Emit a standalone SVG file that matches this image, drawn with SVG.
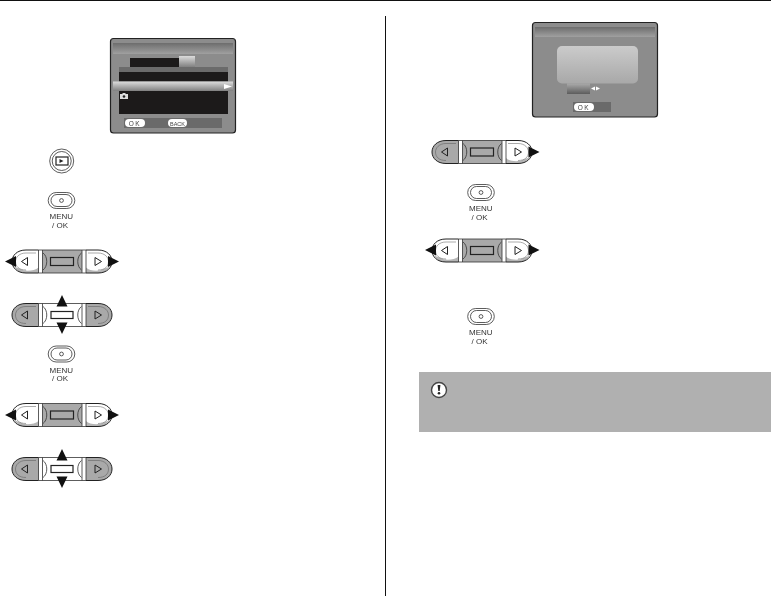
<svg xmlns="http://www.w3.org/2000/svg" xmlns:xlink="http://www.w3.org/1999/xlink" width="771" height="596" viewBox="0 0 771 596">
<style>
.o{fill:none;stroke:#333;stroke-width:.8}
.t{font-family:"Liberation Sans",Arial,sans-serif;font-size:8px;fill:#333}
.k{font-family:"Liberation Sans",Arial,sans-serif;font-size:6.500px;fill:#444;text-anchor:middle}
</style>
<defs>
<filter id="gray" x="-10%" y="-10%" width="120%" height="120%"><feOffset dx="0" dy="0"/></filter>
<linearGradient id="bar" x1="0" y1="0" x2="0" y2="1"><stop offset="0" stop-color="#6d6d6d"/><stop offset="1" stop-color="#a0a0a0"/></linearGradient>
<linearGradient id="sel" x1="0" y1="0" x2="0" y2="1"><stop offset="0" stop-color="#dcdcdc"/><stop offset="1" stop-color="#808080"/></linearGradient>
<linearGradient id="tab" x1="0" y1="0" x2="0" y2="1"><stop offset="0" stop-color="#aaa"/><stop offset="1" stop-color="#5c5c5c"/></linearGradient>
<linearGradient id="box" x1="0" y1="0" x2="0" y2="1"><stop offset="0" stop-color="#cbcbcb"/><stop offset="1" stop-color="#a8a8a8"/></linearGradient>
<path id="silL" d="M-23.500,-11.500 H-36 C-45,-11.500 -50,-6 -50,0 C-50,6 -45,11.500 -36,11.500 H-23.500 Z"/>
<path id="silR" d="M24,-11.500 H36 C45,-11.500 50,-6 50,0 C50,6 45,11.500 36,11.500 H24 Z"/>
<path id="shadeL" d="M-48,5 C-44,11 -40,11.500 -36,11.500 H-23.500 V6 C-27,9 -32,9.500 -38,9 Z"/>
<path id="shadeR" d="M48,5 C44,11 40,11.500 36,11.500 H24 V6 C27,9 32,9.500 38,9 Z"/>
<g id="lines">
<path d="M-23.500,-11.500 H24 M-23.500,11.500 H24 M-23.500,-11.500 V11.500 M-19.500,-11.500 V11.500 M20,-11.500 V11.500 M24,-11.500 V11.500" class="o"/>
<path d="M-19,-8.500 C-14,-5 -14,5 -19,8.500 M19.500,-8.500 C14.500,-5 14.500,5 19.500,8.500" class="o" stroke-width=".6"/>
<path d="M-26,-8.500 H-36 C-43,-8.500 -46.500,-4 -46.500,0 C-46.500,5 -43,8.500 -36,8.500 M26,-8.500 H36 C43,-8.500 46.500,-4 46.500,0 C46.500,5 43,8.500 36,8.500" fill="none" stroke="#555" stroke-width=".5"/>
<path d="M-34.500,-4 V4 L-40.500,0 Z M33,-4 V4 L39.500,0 Z" fill="none" stroke="#222" stroke-width="1"/>
<path d="M-36,-11.500 C-45,-11.500 -50,-6 -50,0 C-50,6 -45,11.500 -36,11.500 H-23.500 M-23.500,-11.500 H-36 M36,-11.500 C45,-11.500 50,-6 50,0 C50,6 45,11.500 36,11.500 H24 M24,-11.500 H36" fill="none" stroke="#222" stroke-width="1"/>
</g>
<g id="padH">
<rect x="-19.500" y="-11.500" width="39.500" height="23" fill="#a9a9a9"/>
<use xlink:href="#shadeL" fill="#b5b5b5"/><use xlink:href="#shadeR" fill="#b5b5b5"/>
<use xlink:href="#lines"/>
<rect x="-11.500" y="-4" width="23" height="8" fill="#a9a9a9" stroke="#222" stroke-width="1.200"/>
</g>
<g id="padRight">
<rect x="-19.500" y="-11.500" width="39.500" height="23" fill="#a9a9a9"/>
<use xlink:href="#silL" fill="#a9a9a9"/><use xlink:href="#shadeR" fill="#b5b5b5"/>
<use xlink:href="#lines"/>
<rect x="-11.500" y="-4" width="23" height="8" fill="#a9a9a9" stroke="#222" stroke-width="1.200"/>
</g>
<g id="padV">
<use xlink:href="#silL" fill="#a9a9a9"/><use xlink:href="#silR" fill="#a9a9a9"/>
<use xlink:href="#lines"/>
<rect x="-11" y="-3.500" width="22" height="7" fill="#fff" stroke="#222" stroke-width="1.200"/>
</g>
<path id="al" d="M0,0 L11,-5.500 V5.500 Z" fill="#111"/>
<path id="ar" d="M0,0 L-11,-5.500 V5.500 Z" fill="#111"/>
<path id="upDown" d="M0,-20 L5.500,-8.500 H-5.500 Z M0,19 L5.500,7.500 H-5.500 Z" fill="#111"/>
<g id="menu">
<rect x="-13.300" y="-8" width="26.600" height="16" rx="8" class="o" fill="#fff"/>
<rect x="-10.500" y="-6" width="21" height="12" rx="6" class="o"/>
<circle cx="0" cy="0" r="1.900" class="o"/>
<g filter="url(#gray)">
<text class="t" x="-12" y="18.500">MENU</text>
<text class="t" x="-9.500" y="27">/ OK</text>
</g>
</g>
</defs>
<g id="frame">
<path d="M0,0.500 H771" stroke="#111" stroke-width="1"/>
<path d="M385.500,16 V596" stroke="#111" stroke-width="1"/>
</g>
<g id="screen-left">
<rect x="110.500" y="38.500" width="125" height="94.500" rx="3" fill="#8c8c8c" stroke="#222" stroke-width="1.200"/>
<rect x="113" y="43" width="120" height="11" fill="url(#bar)"/>
<rect x="130" y="58" width="49" height="9" fill="#1c1a1a"/>
<rect x="179" y="56" width="16" height="11" fill="url(#sel)"/>
<rect x="119" y="67" width="109" height="5" fill="#6b6b6b"/>
<rect x="119" y="72" width="109" height="9.500" fill="#1c1a1a"/>
<rect x="113" y="81.500" width="120" height="9.500" fill="url(#sel)"/>
<rect x="119" y="91" width="109" height="23" fill="#1c1a1a"/>
<path d="M224,84 L232,86.500 L224,89 Z" fill="#fff"/>
<path d="M120,94 H122 L123,93 H125 L126,94 H128 V99 H120 Z" fill="#ddd"/><circle cx="124" cy="96.500" r="1.300" fill="#222"/>
<rect x="124" y="118" width="98" height="10" fill="#6a6a6a"/>
<rect x="125" y="119" width="20" height="8" rx="4" fill="#fff"/>
<rect x="168" y="119" width="19" height="8" rx="4" fill="#fff"/>
<g filter="url(#gray)">
<text class="k" x="135" y="125.500" letter-spacing="1.500">OK</text>
<text class="k" x="177.500" y="125.500" style="font-size:5.500px">BACK</text>
</g>
</g>
<g id="screen-right">
<rect x="532.500" y="22.500" width="125" height="94.500" rx="3" fill="#8c8c8c" stroke="#222" stroke-width="1.200"/>
<rect x="535" y="27" width="120" height="10" fill="url(#bar)"/>
<rect x="557" y="46" width="81" height="37.500" rx="5" fill="url(#box)"/>
<rect x="567" y="83.500" width="23" height="10.500" fill="url(#tab)"/>
<path d="M595,86.500 L591,88.500 L595,90.500 Z M596,86.500 L600,88.500 L596,90.500 Z" fill="#fff"/>
<rect x="573" y="102" width="38" height="10" fill="#6a6a6a"/>
<rect x="574" y="103" width="20" height="8" rx="4" fill="#fff"/>
<g filter="url(#gray)"><text class="k" x="584" y="109.500" letter-spacing="1.500">OK</text></g>
</g>
<g id="btn-play">
<circle cx="61.700" cy="161" r="12" class="o"/>
<circle cx="61.700" cy="161" r="9.500" class="o"/>
<rect x="56" y="157" width="12" height="8" fill="#fff" stroke="#222" stroke-width="1.200"/>
<path d="M59.500,159 L63.500,161 L59.500,163 Z" fill="#222"/>
</g>
<use id="btn-menu-1" xlink:href="#menu" x="61.500" y="200.500"/>
<g id="pad-1"><use xlink:href="#padH" x="62" y="261.500"/><use xlink:href="#al" x="5" y="261.500"/><use xlink:href="#ar" x="119" y="261.500"/></g>
<g id="pad-2"><use xlink:href="#padV" x="62" y="315"/><use xlink:href="#upDown" x="62" y="315"/></g>
<use id="btn-menu-2" xlink:href="#menu" x="61.500" y="354"/>
<g id="pad-3"><use xlink:href="#padH" x="62" y="415"/><use xlink:href="#al" x="5" y="415"/><use xlink:href="#ar" x="119" y="415"/></g>
<g id="pad-4"><use xlink:href="#padV" x="62" y="469"/><use xlink:href="#upDown" x="62" y="469"/></g>
<g id="pad-5"><use xlink:href="#padRight" x="482" y="152"/><use xlink:href="#ar" x="539.500" y="152"/></g>
<use id="btn-menu-3" xlink:href="#menu" x="481" y="192.500"/>
<g id="pad-6"><use xlink:href="#padH" x="482" y="250.500"/><use xlink:href="#al" x="425" y="250"/><use xlink:href="#ar" x="539.500" y="250"/></g>
<g id="btn-menu-4-wrap"><use id="btn-menu-4" xlink:href="#menu" x="481" y="316.500"/></g>
<g id="note">
<rect x="419" y="372" width="352" height="60" fill="#b0b0b0"/>
<circle cx="439" cy="390" r="7.500" fill="#fff" stroke="#444" stroke-width="1.400"/>
<path d="M437.600,385 H440.400 L439.700,391 H438.300 Z" fill="#222"/><circle cx="439" cy="393.200" r="1.300" fill="#222"/>
</g>
</svg>
